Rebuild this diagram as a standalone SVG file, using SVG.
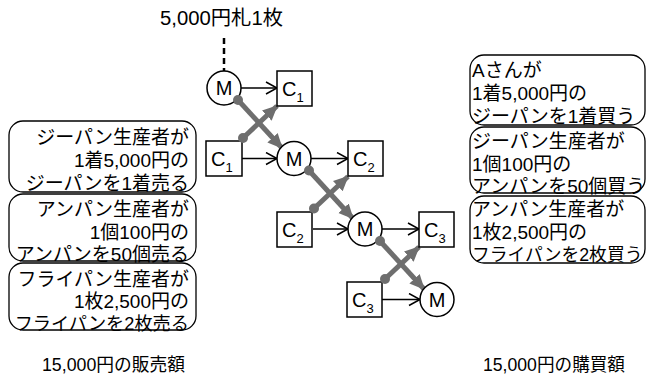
<svg xmlns="http://www.w3.org/2000/svg" width="652" height="383" viewBox="0 0 652 383">
<style>
.jp{font-family:"Liberation Sans","Noto Sans CJK JP",sans-serif;font-size:19px;fill:#000}
.lbl{font-family:"Liberation Sans","Noto Sans CJK JP",sans-serif;font-size:20px;fill:#000}
.sub{font-size:13px}
.box{fill:#fff;stroke:#000;stroke-width:1.5}
.rbox{fill:#fff;stroke:#000;stroke-width:1.3}
.blk{stroke:#000;stroke-width:1.5;fill:none}
.gry{stroke:#6e6e6e;stroke-width:5;fill:none}
.dot{fill:#6e6e6e}
</style>
<defs>
<marker id="open" markerWidth="14" markerHeight="14" refX="12" refY="7" orient="auto" markerUnits="userSpaceOnUse">
<path d="M1,1 L12,7 L1,13" fill="none" stroke="#000" stroke-width="1.5"/>
</marker>
<marker id="tri" markerWidth="16" markerHeight="16" refX="14" refY="8" orient="auto" markerUnits="userSpaceOnUse">
<path d="M0,1 L15,8 L0,15 Z" fill="#6e6e6e"/>
</marker>
</defs>

<text class="jp" x="160" y="25" style="font-size:20px" textLength="123" lengthAdjust="spacingAndGlyphs">5,000円札1枚</text>

<g id="seller1"><rect class="rbox" x="9" y="121" width="187" height="71" rx="14"/>
<text class="jp" text-anchor="end"><tspan x="189" y="144">ジーパン生産者が</tspan><tspan x="189" y="167">1着5,000円の</tspan><tspan x="189" y="190">ジーパンを1着売る</tspan></text></g>
<g id="seller2"><rect class="rbox" x="9" y="194" width="187" height="67" rx="14"/>
<text class="jp" text-anchor="end"><tspan x="189" y="216">アンパン生産者が</tspan><tspan x="189" y="239">1個100円の</tspan><tspan x="189" y="261">アンパンを50個売る</tspan></text></g>
<g id="seller3"><rect class="rbox" x="9" y="263" width="187" height="67" rx="14"/>
<text class="jp" text-anchor="end"><tspan x="189" y="286">フライパン生産者が</tspan><tspan x="189" y="308">1枚2,500円の</tspan><tspan x="189" y="330" style="font-size:18.2px">フライパンを2枚売る</tspan></text></g>

<g id="buyer1"><rect class="rbox" x="470" y="55" width="175" height="70" rx="14"/>
<text class="jp"><tspan x="472" y="77">Aさんが</tspan><tspan x="472" y="100">1着5,000円の</tspan><tspan x="472" y="123">ジーパンを1着買う</tspan></text></g>
<g id="buyer2"><rect class="rbox" x="470" y="127" width="175" height="66" rx="14"/>
<text class="jp"><tspan x="472" y="148">ジーパン生産者が</tspan><tspan x="472" y="171">1個100円の</tspan><tspan x="472" y="193">アンパンを50個買う</tspan></text></g>
<g id="buyer3"><rect class="rbox" x="470" y="196" width="175" height="67" rx="14"/>
<text class="jp"><tspan x="472" y="216">アンパン生産者が</tspan><tspan x="472" y="239">1枚2,500円の</tspan><tspan x="472" y="261" style="font-size:17.8px">フライパンを2枚買う</tspan></text></g>

<text class="jp" x="42" y="371" style="font-size:18px" textLength="143" lengthAdjust="spacingAndGlyphs">15,000円の販売額</text>
<text class="jp" x="483" y="371" style="font-size:18px" textLength="142" lengthAdjust="spacingAndGlyphs">15,000円の購買額</text>

<g id="connectors">
<line x1="224" y1="38" x2="224" y2="71" stroke="#000" stroke-width="2.5" stroke-dasharray="6,4"/>
<line class="blk" x1="241" y1="88" x2="277" y2="88" marker-end="url(#open)"/>
<line class="blk" x1="242" y1="158.5" x2="277" y2="158.5" marker-end="url(#open)"/>
<line class="blk" x1="311" y1="158.5" x2="348" y2="158.5" marker-end="url(#open)"/>
<line class="blk" x1="313" y1="229" x2="348" y2="229" marker-end="url(#open)"/>
<line class="blk" x1="382" y1="229" x2="419" y2="229" marker-end="url(#open)"/>
<line class="blk" x1="382" y1="299.5" x2="420" y2="299.5" marker-end="url(#open)"/>

<line class="gry" x1="238" y1="100" x2="282" y2="148" marker-end="url(#tri)"/>
<line class="gry" x1="243" y1="138" x2="277" y2="106" marker-end="url(#tri)"/>
<line class="gry" x1="309" y1="170.5" x2="353" y2="218.5" marker-end="url(#tri)"/>
<line class="gry" x1="314" y1="208.5" x2="348" y2="176.5" marker-end="url(#tri)"/>
<line class="gry" x1="380" y1="241" x2="424" y2="289" marker-end="url(#tri)"/>
<line class="gry" x1="385" y1="279" x2="419" y2="247" marker-end="url(#tri)"/>
</g>

<g id="M1"><circle class="box" cx="224" cy="88" r="17"/><text class="lbl" x="224" y="95" text-anchor="middle">M</text></g>
<g id="C1a"><rect class="box" x="277" y="71" width="35" height="35"/><text class="lbl" x="282" y="96">C<tspan class="sub" dy="6">1</tspan></text></g>
<g id="C1b"><rect class="box" x="206" y="141" width="36" height="35"/><text class="lbl" x="211" y="166">C<tspan class="sub" dy="6">1</tspan></text></g>
<g id="M2"><circle class="box" cx="294" cy="158.5" r="17"/><text class="lbl" x="294" y="165.5" text-anchor="middle">M</text></g>
<g id="C2a"><rect class="box" x="348" y="141" width="35" height="35"/><text class="lbl" x="353" y="166">C<tspan class="sub" dy="6">2</tspan></text></g>
<g id="C2b"><rect class="box" x="277" y="212" width="35" height="35"/><text class="lbl" x="282" y="237">C<tspan class="sub" dy="6">2</tspan></text></g>
<g id="M3"><circle class="box" cx="365" cy="229" r="17"/><text class="lbl" x="365" y="236" text-anchor="middle">M</text></g>
<g id="C3a"><rect class="box" x="419" y="212" width="35" height="35"/><text class="lbl" x="424" y="237">C<tspan class="sub" dy="6">3</tspan></text></g>
<g id="C3b"><rect class="box" x="347" y="282" width="35" height="35"/><text class="lbl" x="352" y="307">C<tspan class="sub" dy="6">3</tspan></text></g>
<g id="M4"><circle class="box" cx="437" cy="299.5" r="17"/><text class="lbl" x="437" y="306.5" text-anchor="middle">M</text></g>

<g id="dots">
<circle class="dot" cx="238" cy="100" r="5"/>
<circle class="dot" cx="243" cy="138" r="5"/>
<circle class="dot" cx="309" cy="170.5" r="5"/>
<circle class="dot" cx="314" cy="208.5" r="5"/>
<circle class="dot" cx="380" cy="241" r="5"/>
<circle class="dot" cx="385" cy="279" r="5"/>
</g>
</svg>
